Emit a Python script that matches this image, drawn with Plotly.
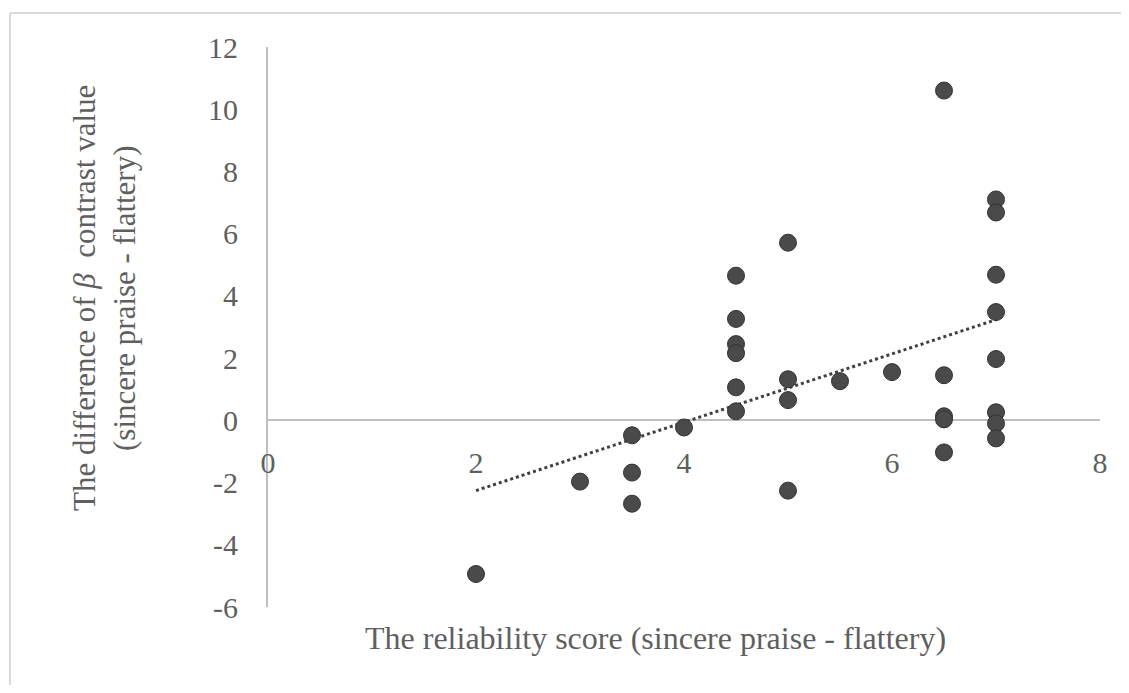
import numpy as np
import plotly.graph_objects as go

# Data
reliability = [2, 3, 3.5, 3.5, 3.5, 4,
               4.5, 4.5, 4.5, 4.5, 4.5, 4.5,
               5, 5, 5, 5, 5.5, 6,
               6.5, 6.5, 6.5, 6.5, 6.5,
               7, 7, 7, 7, 7, 7, 7, 7]
beta_diff = [-4.94, -1.97, -0.48, -1.68, -2.68, -0.23,
             4.65, 3.26, 2.45, 2.16, 1.06, 0.29,
             5.71, 1.32, 0.65, -2.26, 1.26, 1.55,
             10.6, 1.45, 0.13, 0.03, -1.03,
             7.1, 6.68, 4.68, 3.48, 1.97, 0.26, -0.1, -0.58]

x_ticks = [0, 2, 4, 6, 8]
y_ticks = [-6, -4, -2, 0, 2, 4, 6, 8, 10, 12]

x_title = "The reliability score (sincere praise - flattery)"
y_title_1 = "The difference of <i>β</i>  contrast value"
y_title_2 = "(sincere praise - flattery)"

# linear trendline
slope, intercept = np.polyfit(reliability, beta_diff, 1)
tx = np.array([min(reliability), max(reliability)])
ty = slope * tx + intercept

FONT = "Liberation Serif"
TXT = "#5f5f5f"
AX = "#bfbfbf"

fig = go.Figure()
fig.add_trace(go.Scatter(
    x=tx, y=ty, mode="lines",
    line=dict(color="#404040", width=3, dash="dot"),
    showlegend=False, hoverinfo="skip"))
fig.add_trace(go.Scatter(
    x=reliability, y=beta_diff, mode="markers",
    marker=dict(size=17, color="#4a4a4a", line=dict(color="#333333", width=1)),
    showlegend=False))

# page body adds an 8px offset; work in reference pixels then shift
OFF = 8
W, H = 1129 - 2 * OFF, 693 - 2 * OFF
ml, mt = 268 - OFF, 47 - OFF
plot_right = 1100 - OFF
plot_bottom = 607 - OFF
mr = W - plot_right
mb = H - plot_bottom
pw, ph = plot_right - ml, plot_bottom - mt

def px2paper_x(px):
    return (px - OFF - ml) / pw

def px2paper_y(py):
    return (plot_bottom - (py - OFF)) / ph

BORDER = "#d9d9d9"
fig.update_layout(
    width=W, height=H,
    margin=dict(l=ml, r=mr, t=mt, b=mb),
    paper_bgcolor="white", plot_bgcolor="white",
    font=dict(family=FONT, color=TXT, size=30),
    xaxis=dict(
        range=[0, 8], tickvals=x_ticks, ticktext=[str(v) for v in x_ticks],
        showgrid=False, zeroline=False, showline=False,
        anchor="free", position=px2paper_y(420),
        ticks="outside", ticklen=16, tickcolor="rgba(0,0,0,0)",
        tickfont=dict(family=FONT, size=30, color=TXT),
    ),
    yaxis=dict(
        range=[-6, 12], tickvals=y_ticks, ticktext=[str(v) for v in y_ticks],
        showgrid=False, zeroline=True, zerolinecolor=AX, zerolinewidth=2,
        showline=True, linecolor=AX, linewidth=2,
        ticks="outside", ticklen=22, tickcolor="rgba(0,0,0,0)",
        tickfont=dict(family=FONT, size=30, color=TXT),
    ),
    shapes=[
        dict(type="line", xref="paper", yref="paper",
             x0=px2paper_x(10), x1=px2paper_x(1160),
             y0=px2paper_y(13), y1=px2paper_y(13),
             line=dict(color=BORDER, width=2), layer="below"),
        dict(type="line", xref="paper", yref="paper",
             x0=px2paper_x(10), x1=px2paper_x(10),
             y0=px2paper_y(13), y1=px2paper_y(700),
             line=dict(color=BORDER, width=2), layer="below"),
    ],
    annotations=[
        dict(text=x_title, xref="paper", yref="paper",
             x=px2paper_x(655), y=px2paper_y(638), showarrow=False,
             xanchor="center", yanchor="middle",
             font=dict(family=FONT, size=32, color=TXT)),
        dict(text=y_title_1, xref="paper", yref="paper",
             x=px2paper_x(84), y=px2paper_y(298), showarrow=False,
             textangle=-90, xanchor="center", yanchor="middle",
             font=dict(family=FONT, size=31, color=TXT)),
        dict(text=y_title_2, xref="paper", yref="paper",
             x=px2paper_x(124), y=px2paper_y(298), showarrow=False,
             textangle=-90, xanchor="center", yanchor="middle",
             font=dict(family=FONT, size=31, color=TXT)),
    ],
)

fig.write_html("out.html")
